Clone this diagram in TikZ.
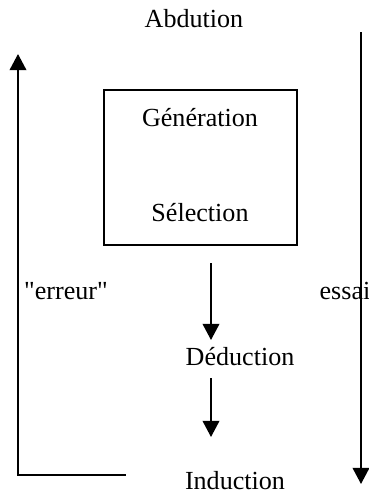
\documentclass[tikz,border=0pt]{standalone}
\usepackage{fontspec}
\setmainfont{Liberation Serif}[Ligatures=TeXOff]
\usetikzlibrary{arrows.meta}
\usetikzlibrary{positioning}

\begin{document}
\begin{tikzpicture}[x=0.46pt, y=-0.46pt, line width = 0.9pt,
    label/.style = {inner sep = 0pt, font = \fontsize{12}{14}\selectfont},
    flow/.style = {-{Triangle[length=7.4pt, width=7.6pt]}}]

    \useasboundingbox (0,0) rectangle (369,493);

    % the box
    \node[draw, line width = 0.7pt, minimum width = 193*0.46pt,
          minimum height = 155*0.46pt, inner sep = 0pt] (box) at (200.5,167.5) {};
    \node[label] (gen) at (200,118) {Génération};
    \node[label] (sel) at (200,213) {Sélection};

    % texts
    \node[label] (abd) at (194,19) {Abdution};
    \node[label] (ded) at (240,357) {Déduction};
    \node[label] (ind) at (235,481) {Induction};
    \node[label] (err) at (66,291) {"erreur"};
    \node[label] (ess) at (345,291) {essai};

    % end points of the connectors
    \coordinate (rTop) at (361,32);
    \coordinate (rBot) at (361,484);
    \coordinate (lEnd) at (126,475);
    \coordinate (lCorner) at (18,475);
    \coordinate (lTop) at (18,54);
    \coordinate (aTop) at (211,263);
    \coordinate (aBot) at (211,340);
    \coordinate (bTop) at (211,378);
    \coordinate (bBot) at (211,437);

    \draw[flow] (rTop) -- (rBot);
    \draw[flow] (lEnd) -- (lCorner) -- (lTop);
    \draw[flow] (aTop) -- (aBot);
    \draw[flow] (bTop) -- (bBot);

\end{tikzpicture}
\end{document}
